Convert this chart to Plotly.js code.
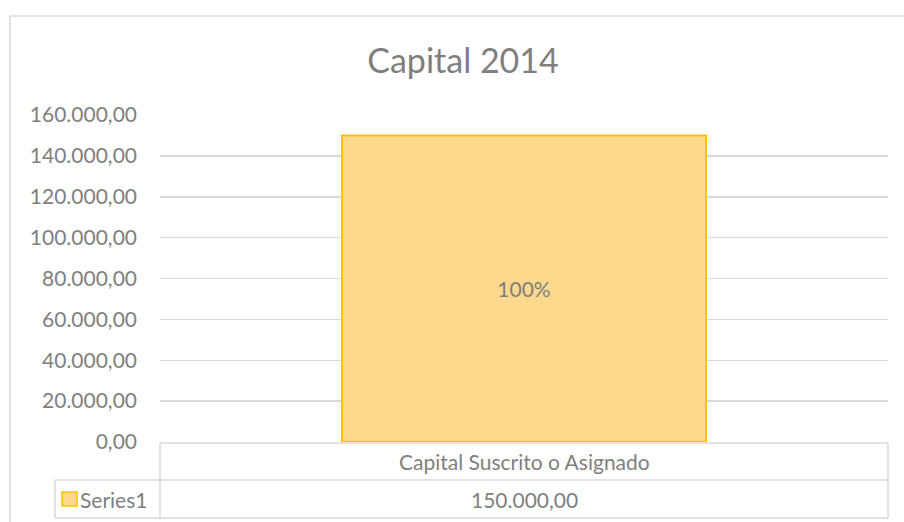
<!DOCTYPE html>
<html>
<head>
<meta charset="utf-8">
<script src="https://cdn.plot.ly/plotly-3.0.1.min.js"></script>
<style>html,body{margin:0;padding:0;background:#fff;}#chart{width:904px;height:522px;}</style>
</head>
<body>
<div id="chart"></div>
<script>
// ---- data ----
var chartTitle = "Capital 2014";
var categories = ["Capital Suscrito o Asignado"];
var seriesNames = ["Series1"];
var seriesValues = [150000];
var tickVals = [0, 20000, 40000, 60000, 80000, 100000, 120000, 140000, 160000];
var tickLabels = ["0,00", "20.000,00", "40.000,00", "60.000,00", "80.000,00", "100.000,00", "120.000,00", "140.000,00", "160.000,00"];

// ---- helpers ----
function fmt(v) {
  var parts = v.toFixed(2).split(".");
  parts[0] = parts[0].replace(/\B(?=(\d{3})+(?!\d))/g, ".");
  return parts[0] + "," + parts[1];
}
var total = seriesValues.reduce(function (a, b) { return a + b; }, 0);
var pctLabels = seriesValues.map(function (v) { return Math.round(v / total * 100) + "%"; });

var W = 904, H = 522, L = 160, R = 888, T = 115, B = 442;
function X(px) { return (px - L) / (R - L); }
function Y(py) { return (B - py) / (B - T); }

var gray = "#7f7f7f";
var lineC = "#d9d9d9";
var font = "Lato, 'Open Sans', sans-serif";
var barFill = "#fed88c";
var barLine = "#ffc000";

function hline(x0, x1, y) {
  return {type: "line", xref: "paper", yref: "paper", x0: X(x0), x1: X(x1), y0: Y(y), y1: Y(y), line: {color: lineC, width: 1.5}};
}
function vline(x, y0, y1) {
  return {type: "line", xref: "paper", yref: "paper", x0: X(x), x1: X(x), y0: Y(y0), y1: Y(y1), line: {color: lineC, width: 1.5}};
}

var shapes = [
  // chart border
  hline(10, 904, 16), vline(10, 16, 522),
  // data table
  hline(160, 888, 443), hline(55, 888, 480), hline(55, 888, 518),
  vline(160, 443, 518), vline(888, 443, 518), vline(55, 480, 518),
  // legend key
  {type: "rect", xref: "paper", yref: "paper", x0: X(62), x1: X(77), y0: Y(506), y1: Y(492),
   fillcolor: barFill, line: {color: barLine, width: 1.5}}
];

var annotations = [
  {xref: "paper", yref: "paper", x: X(524), y: Y(461), text: categories[0], showarrow: false,
   xanchor: "center", yanchor: "middle", font: {family: font, size: 21, color: gray}},
  {xref: "paper", yref: "paper", x: X(524), y: Y(499), text: fmt(seriesValues[0]), showarrow: false,
   xanchor: "center", yanchor: "middle", font: {family: font, size: 21, color: gray}},
  {xref: "paper", yref: "paper", x: X(78), y: Y(499), text: seriesNames[0], showarrow: false,
   xanchor: "left", yanchor: "middle", font: {family: font, size: 21, color: gray}}
];

var trace = {
  type: "bar",
  x: categories,
  y: seriesValues,
  name: seriesNames[0],
  text: pctLabels,
  textposition: "inside",
  insidetextanchor: "middle",
  textfont: {family: font, size: 21, color: gray},
  constraintext: "none",
  marker: {color: barFill, line: {color: barLine, width: 2}},
  hoverinfo: "none"
};

var layout = {
  width: W, height: H,
  margin: {l: L, r: W - R, t: T, b: H - B, pad: 0},
  paper_bgcolor: "#ffffff",
  plot_bgcolor: "#ffffff",
  showlegend: false,
  bargap: 0.5,
  title: {text: chartTitle, font: {family: font, size: 34, color: gray},
          xref: "container", x: 463 / W, xanchor: "center",
          yref: "container", y: 1 - 61 / H, yanchor: "middle"},
  xaxis: {showticklabels: false, showgrid: false, zeroline: false, showline: false, ticks: "", fixedrange: true},
  yaxis: {range: [0, 160000], tickmode: "array", tickvals: tickVals, ticktext: tickLabels,
          showgrid: true, gridcolor: lineC, gridwidth: 1.5, zeroline: false, showline: false,
          ticks: "", ticklabelstandoff: 22, tickfont: {family: font, size: 21, color: gray}, fixedrange: true},
  shapes: shapes,
  annotations: annotations
};

Plotly.newPlot("chart", [trace], layout, {displayModeBar: false, staticPlot: true});
</script>
</body>
</html>
